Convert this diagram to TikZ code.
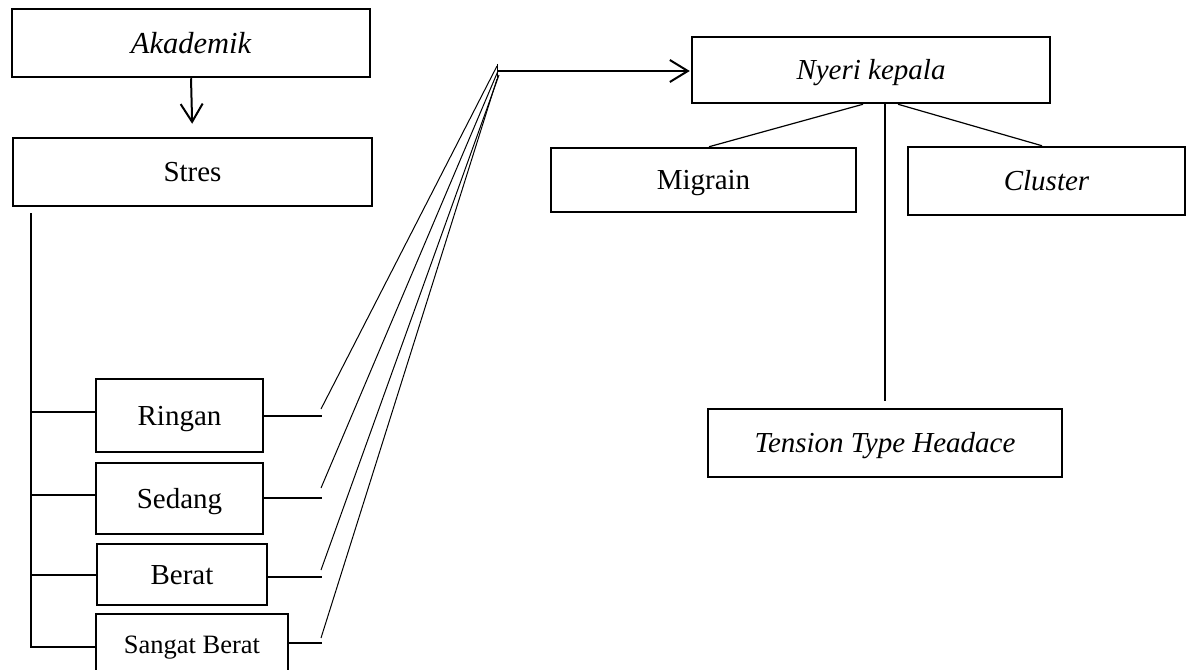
\documentclass[tikz,border=0pt]{standalone}
\usepackage{fontspec}
\setmainfont{Liberation Serif}
\usetikzlibrary{arrows.meta}
\tikzset{
  box/.style={draw, line width=2.5pt, rectangle, inner sep=0pt, text height=19pt, text depth=0pt, font=\fontsize{29}{34}\selectfont},
  conn/.style={line width=1.2pt},
  thin/.style={line width=1pt},
  arr/.style={line width=2pt, -{Straight Barb[length=18pt,width=22pt,line width=2pt]}},
}
\begin{document}
\begin{tikzpicture}[x=1pt,y=-1pt]
\useasboundingbox (0,0) rectangle (1193,669);
\clip (0,0) rectangle (1193,669);
% nodes
\node[box, minimum width=358pt, minimum height=68pt, text height=20pt, font=\fontsize{30.5}{36}\selectfont] (akad) at (191,43) {\itshape Akademik};
\node[box, minimum width=359pt, minimum height=68pt] (stres) at (192.5,172) {Stres};
\node[box, minimum width=167pt, minimum height=73pt] (ringan) at (179.5,415.5) {Ringan};
\node[box, minimum width=167pt, minimum height=71pt] (sedang) at (179.5,498.5) {Sedang};
\node[box, minimum width=170pt, minimum height=61pt] (berat) at (182,574.5) {Berat};
\node[box, minimum width=192pt, minimum height=62pt, text height=17.5pt, font=\fontsize{26.5}{31}\selectfont] (sangat) at (192,645) {Sangat Berat};
\node[box, minimum width=358pt, minimum height=66pt] (nyeri) at (871,70) {\itshape Nyeri kepala};
\node[box, minimum width=305pt, minimum height=64pt] (migrain) at (703.5,180) {Migrain};
\node[box, minimum width=277pt, minimum height=68pt] (cluster) at (1046.5,181) {\itshape Cluster};
\node[box, minimum width=354pt, minimum height=68pt] (tension) at (885,443) {\itshape Tension Type Headace};
% coordinates
\coordinate (trunkTop) at (31,213);
\coordinate (trunkBot) at (31,648);
\coordinate (r1) at (322,416);
\coordinate (r2) at (322,498);
\coordinate (r3) at (322,577);
\coordinate (r4) at (322,643);
\coordinate (d1) at (321,409);
\coordinate (d2) at (321,488);
\coordinate (d3) at (321,570);
\coordinate (d4) at (321,638);
\coordinate (t1) at (497,66);
\coordinate (t2) at (498,71);
\coordinate (t3) at (499,75);
\coordinate (t4) at (497,79);
\coordinate (hub) at (497,71);
% arrow Akademik -> Stres
\draw[arr, shorten >=13pt] (akad.south) -- (stres.north);
% trunk and branches
\draw[conn] (trunkTop) -- (trunkBot);
\draw[conn] (trunkTop |- 0,412) -- (ringan.west |- 0,412);
\draw[conn] (trunkTop |- 0,495) -- (sedang.west |- 0,495);
\draw[conn] (trunkTop |- 0,575) -- (berat.west |- 0,575);
\draw[conn] (trunkTop |- 0,647) -- (sangat.west |- 0,647);
% stubs
\draw[conn] (ringan.east |- r1) -- (r1);
\draw[conn] (sedang.east |- r2) -- (r2);
\draw[conn] (berat.east |- r3) -- (r3);
\draw[conn] (sangat.east |- r4) -- (r4);
% diagonals
\draw[thin] (d1) -- (t1);
\draw[thin] (d2) -- (t2);
\draw[thin] (d3) -- (t3);
\draw[thin] (d4) -- (t4);
\draw[thin] (497,64) -- (497,80);
% arrow to Nyeri kepala
\draw[arr, shorten >=1pt] (hub) -- (nyeri.west |- hub);
% Nyeri kepala branches
\draw[conn] ([xshift=-8pt]nyeri.south) -- ([xshift=5.5pt]migrain.north);
\draw[conn] ([xshift=27pt]nyeri.south) -- ([xshift=-4.5pt]cluster.north);
\draw[conn, shorten >=7pt] (tension.north |- nyeri.south) -- (tension.north);
\end{tikzpicture}
\end{document}
